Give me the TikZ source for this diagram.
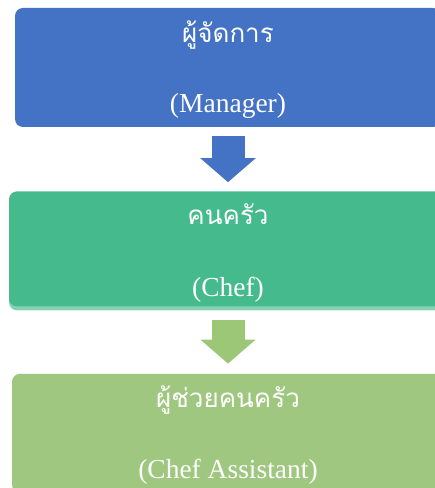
\documentclass[tikz,border=0pt]{standalone}
\usepackage{fontspec}
\setmainfont{Liberation Serif}
\newfontfamily\thaifont[Script=Thai]{Loma}
\usetikzlibrary{positioning,shadows,arrows.meta}
\definecolor{mgrblue}{HTML}{4472C4}
\definecolor{chefgreen}{HTML}{45BB8D}
\definecolor{chefstrip}{HTML}{86D1B2}
\definecolor{helpgreen}{HTML}{9FC77F}
\definecolor{flowgreen}{HTML}{9BC777}
\begin{document}
\begin{tikzpicture}[x=1pt,y=1pt,
    box/.style={rounded corners=8pt,inner sep=0pt,minimum height=119pt},
    thai/.style={anchor=base,text=white,font=\thaifont\fontsize{26}{30}\selectfont},
    eng/.style={anchor=base,text=white,font=\fontsize{27.5}{30}\selectfont},
    flow/.style={line width=33pt,-{Triangle[width=54pt,length=24pt]}}]
  \clip (0,0) rectangle (435,488);
  \node[box,fill=mgrblue,minimum width=426pt] (mgr) at (228,420.5) {};
  \node[box,fill=chefgreen,minimum width=438pt,minimum height=115pt,
    drop shadow={shadow xshift=0pt,shadow yshift=-4pt,fill=chefstrip,opacity=1},
    below=64pt of mgr] (chef) {};
  \node[box,fill=helpgreen,minimum width=432pt,below=67pt of chef] (help) {};
  % titles, Thai above and English below
  \node[thai] (mgrth) at ([yshift=-35pt]mgr.north) {ผู้จัดการ};
  \node[eng] (mgren) at ([yshift=-105pt]mgr.north) {(Manager)};
  \node[thai] (chefth) at ([yshift=-33pt]chef.north) {คนครัว};
  \node[eng] (chefen) at ([yshift=-105pt]chef.north) {(Chef)};
  \node[thai] (helpth) at ([yshift=-34pt]help.north) {ผู้ช่วยคนครัว};
  \node[eng] (helpen) at ([yshift=-105pt]help.north) {(Chef Assistant)};
  % block arrows between the levels
  \coordinate[below=9pt of mgr.south] (mgrout);
  \coordinate[above=9pt of chef.north] (chefin);
  \coordinate[below=13pt of chef.south] (chefout);
  \coordinate[above=10pt of help.north] (helpin);
  \draw[flow,mgrblue] (mgrout) -- (chefin);
  \draw[flow,flowgreen] (chefout) -- (helpin);
\end{tikzpicture}
\end{document}
